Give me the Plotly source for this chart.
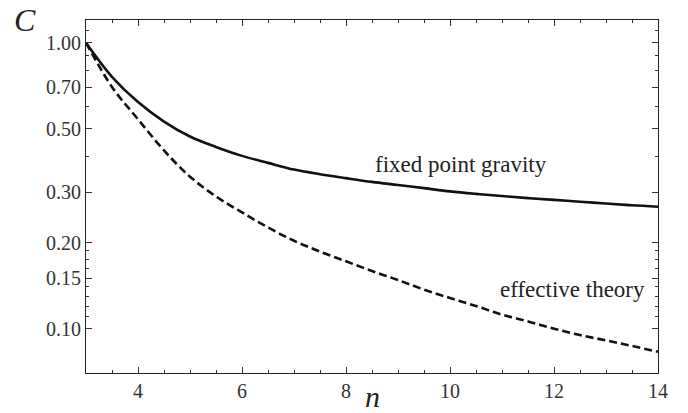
import plotly.graph_objects as go

n_vals = [3, 3.5, 4, 4.5, 5, 5.5, 6, 6.5, 7, 7.5, 8, 8.5, 9, 9.5, 10, 10.5, 11, 11.5, 12, 12.5, 13, 13.5, 14]
fixed_point_gravity = [1.0, 0.76, 0.62, 0.53, 0.47, 0.432, 0.402, 0.38, 0.36, 0.347, 0.336, 0.326, 0.318,
                       0.31, 0.302, 0.296, 0.291, 0.286, 0.282, 0.278, 0.274, 0.27, 0.267]
effective_theory = [1.0, 0.70, 0.54, 0.42, 0.34, 0.29, 0.255, 0.226, 0.203, 0.186, 0.172, 0.159, 0.148,
                    0.137, 0.128, 0.12, 0.112, 0.106, 0.100, 0.095, 0.091, 0.087, 0.083]

x_ticks = [4, 6, 8, 10, 12, 14]
y_ticks = [0.10, 0.15, 0.20, 0.30, 0.50, 0.70, 1.00]
y_tick_labels = ["0.10", "0.15", "0.20", "0.30", "0.50", "0.70", "1.00"]
y_minor = [0.11, 0.12, 0.13, 0.14, 0.1625, 0.175, 0.1875, 0.4, 0.6, 0.8, 0.9, 1.1]

serif = "Liberation Serif"

fig = go.Figure()
fig.add_trace(go.Scatter(x=n_vals, y=fixed_point_gravity, mode="lines", line_shape="spline",
                         line=dict(color="#111111", width=2.6), name="fixed point gravity"))
fig.add_trace(go.Scatter(x=n_vals, y=effective_theory, mode="lines", line_shape="spline",
                         line=dict(color="#111111", width=2.6, dash="8px,4px"), name="effective theory"))

fig.update_layout(
    width=688, height=413,
    margin=dict(l=86, r=30, t=20, b=40),
    paper_bgcolor="white", plot_bgcolor="white",
    showlegend=False,
    font=dict(family=serif, size=20, color="#333333"),
    xaxis=dict(range=[3, 14], tickvals=x_ticks, ticks="inside", ticklen=6, tickwidth=1,
               tickcolor="#333333", showline=True, linecolor="#222222", linewidth=1.2,
               mirror="ticks", showgrid=False, zeroline=False,
               tickfont=dict(family=serif, size=20, color="#333333"),
               minor=dict(dtick=0.5, tick0=3, ticks="inside", ticklen=3, tickcolor="#333333", showgrid=False)),
    yaxis=dict(type="log", range=[-1.155, 0.0794], tickvals=y_ticks, ticktext=y_tick_labels,
               ticks="inside", ticklen=6, tickwidth=1, tickcolor="#333333",
               showline=True, linecolor="#222222", linewidth=1.2, mirror="ticks",
               showgrid=False, zeroline=False,
               tickfont=dict(family=serif, size=20, color="#333333"),
               minor=dict(tickvals=y_minor, ticks="inside", ticklen=3, tickcolor="#333333", showgrid=False)),
)

fig.add_annotation(text="fixed point gravity", x=461, y=164, xref="paper", yref="paper",
                   showarrow=False, xanchor="center", yanchor="middle",
                   font=dict(family=serif, size=23, color="#222222"))
fig.add_annotation(text="effective theory", x=647, y=289, xref="paper", yref="paper",
                   showarrow=False, xanchor="right", yanchor="middle",
                   font=dict(family=serif, size=23, color="#222222"))
fig.add_annotation(text="<i>C</i>", x=25, y=20, xref="paper", yref="paper",
                   showarrow=False, xanchor="center", yanchor="middle",
                   font=dict(family=serif, size=32, color="#222222"))
fig.add_annotation(text="<i>n</i>", x=372, y=396, xref="paper", yref="paper",
                   showarrow=False, xanchor="center", yanchor="middle",
                   font=dict(family=serif, size=30, color="#222222"))

# convert pixel annotation positions to paper coordinates
pw = 688 - 86 - 30
ph = 413 - 20 - 40
for a in fig.layout.annotations:
    px, py = a.x, a.y
    a.x = (px - 86) / pw
    a.y = 1 - (py - 20) / ph

fig.write_html("out.html")
